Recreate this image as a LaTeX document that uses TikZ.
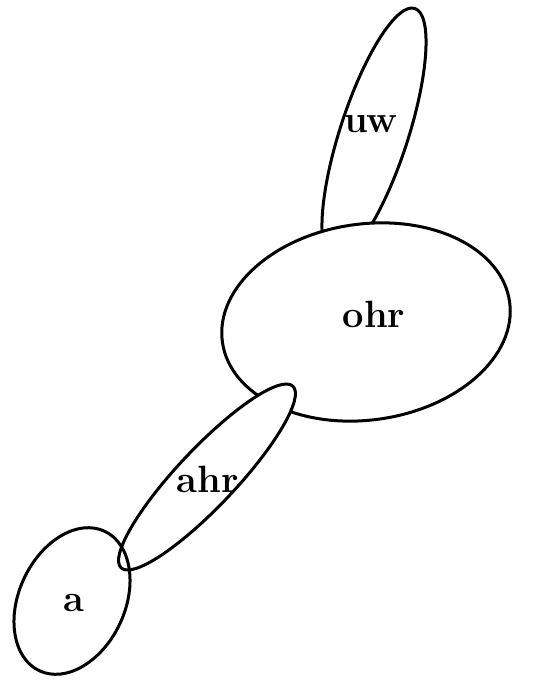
\documentclass[tikz,border=0pt]{standalone}
\usepackage{tikz}
\usetikzlibrary{shapes.geometric}

\begin{document}
\begin{tikzpicture}[x=1pt,y=-1pt,
  blob/.style={draw,ellipse,line width=3pt,fill=white,inner sep=0pt},
  lbl/.style={font=\fontsize{38}{40}\selectfont\bfseries,inner sep=0pt}]
\useasboundingbox (0,0) rectangle (535,684);
\node[blob,minimum width=264pt,minimum height=68pt,rotate=72] (uwset) at (374,134) {};
\node[blob,minimum width=290pt,minimum height=196pt,rotate=8] (ohrset) at (366,322) {};
\node[blob,minimum width=250pt,minimum height=58pt,rotate=46.6] (ahrset) at (207,477) {};
\node[blob,fill=none,minimum width=154pt,minimum height=106pt,rotate=65] (aset) at (72,601) {};
\node[lbl] (uw) at (371,124) {uw};
\node[lbl] (ohr) at (374,314) {ohr};
\node[lbl] (ahr) at (208,479) {ahr};
\node[lbl] (a) at (74,603) {a};
\end{tikzpicture}
\end{document}
